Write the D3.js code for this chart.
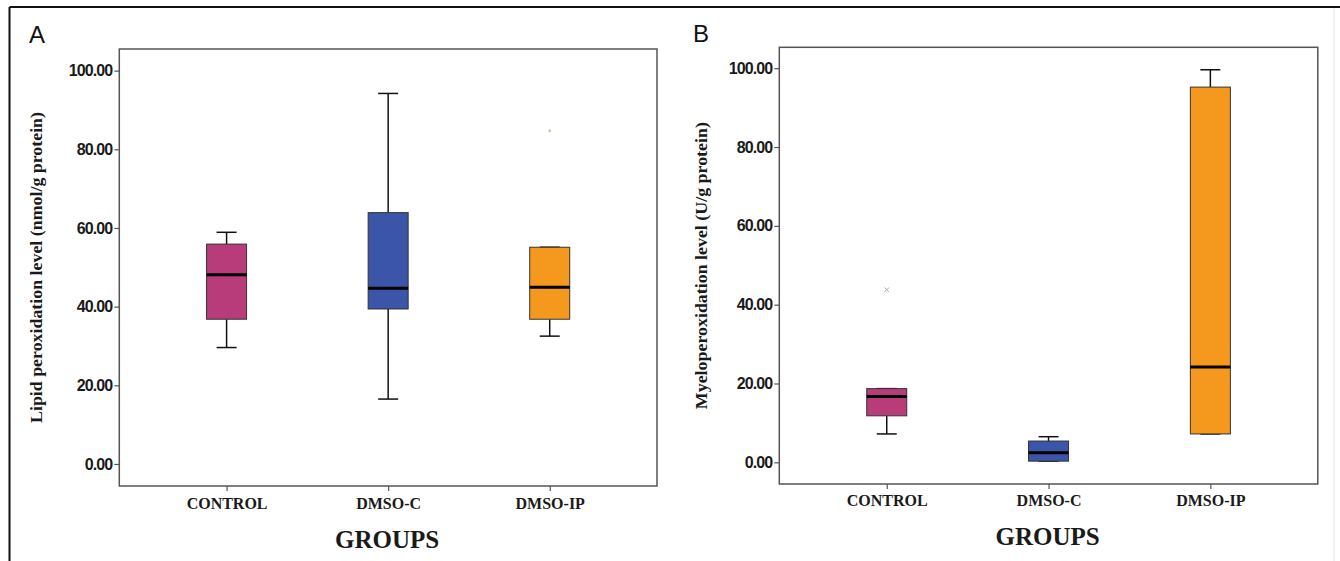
<!DOCTYPE html>
<html>
<head>
<meta charset="utf-8">
<script src="https://cdn.jsdelivr.net/npm/d3@7"></script>
<style>
  html, body { margin: 0; padding: 0; background: #fff; }
  svg { display: block; }
</style>
</head>
<body>
<svg id="chart" width="1340" height="561"></svg>
<script>
// ---------- data ----------
const categories = ["CONTROL", "DMSO-C", "DMSO-IP"];
const colors = ["#b83c7a", "#3b55a9", "#f4991e"];
const tickValues = [0, 20, 40, 60, 80, 100];

// Panel A: Lipid peroxidation (nmol/g protein)
const lipidLow    = [29.6, 16.5, 32.5];
const lipidQ1     = [36.8, 39.4, 36.8];
const lipidMedian = [48.1, 44.7, 44.9];
const lipidQ3     = [55.9, 63.9, 55.1];
const lipidHigh   = [58.9, 94.2, 55.1];
const lipidOutliers = [[], [], [84.7]];

// Panel B: Myeloperoxidation (U/g protein)
const mpoLow    = [7.2, 0.3, 7.2];
const mpoQ1     = [11.8, 0.3, 7.2];
const mpoMedian = [16.7, 2.4, 24.2];
const mpoQ3     = [18.7, 5.4, 95.2];
const mpoHigh   = [18.7, 6.5, 99.6];
const mpoOutliers = [[43.8], [], []];

const svg = d3.select("#chart");

// outer figure frame
svg.append("line").attr("x1", 9.5).attr("x2", 1340).attr("y1", 7).attr("y2", 7)
  .attr("stroke", "#111").attr("stroke-width", 2);
svg.append("line").attr("x1", 9.5).attr("x2", 9.5).attr("y1", 7).attr("y2", 561)
  .attr("stroke", "#111").attr("stroke-width", 2);
svg.append("line").attr("x1", 1334).attr("x2", 1334).attr("y1", 8).attr("y2", 561)
  .attr("stroke", "#e4e4e4").attr("stroke-width", 1);

function panel(cfg) {
  const g = svg.append("g");
  const x = d3.scalePoint().domain(categories).range([cfg.left, cfg.right]).padding(0.664);
  const y = d3.scaleLinear().domain(cfg.domain).range([cfg.bottom, cfg.top]);
  const boxW = 40, capW = 20;

  // plot frame
  g.append("rect").attr("x", cfg.left).attr("y", cfg.top)
    .attr("width", cfg.right - cfg.left).attr("height", cfg.bottom - cfg.top)
    .attr("fill", "none").attr("stroke", "#555").attr("stroke-width", 1.5);

  // y axis
  const ya = d3.axisLeft(y).tickValues(tickValues).tickFormat(d3.format(".2f"))
    .tickSize(5).tickPadding(2);
  const yg = g.append("g").attr("transform", `translate(${cfg.left},0)`).call(ya);
  yg.select(".domain").remove();
  yg.selectAll(".tick line").attr("stroke", "#555").attr("stroke-width", 1.2);
  yg.selectAll(".tick text").attr("fill", "#1a1a1a")
    .style("font-family", "'Liberation Sans', Arial, sans-serif")
    .style("font-weight", "bold").style("font-size", "16px")
    .style("letter-spacing", "-0.9px");

  // x axis
  const xa = d3.axisBottom(x).tickSize(5).tickPadding(8);
  const xg = g.append("g").attr("transform", `translate(0,${cfg.bottom})`).call(xa);
  xg.select(".domain").remove();
  xg.selectAll(".tick line").attr("stroke", "#555").attr("stroke-width", 1.2);
  xg.selectAll(".tick text").attr("fill", "#1a1a1a")
    .attr("y", cfg.catBaseline - cfg.bottom).attr("dy", 0)
    .style("font-family", "'Liberation Serif', 'Times New Roman', serif")
    .style("font-weight", "bold").style("font-size", "16px");

  // boxes
  categories.forEach((c, i) => {
    const cx = x(c);
    // whiskers
    g.append("line").attr("x1", cx).attr("x2", cx)
      .attr("y1", y(cfg.high[i])).attr("y2", y(cfg.q3[i]))
      .attr("stroke", "#111").attr("stroke-width", 1.5);
    g.append("line").attr("x1", cx).attr("x2", cx)
      .attr("y1", y(cfg.q1[i])).attr("y2", y(cfg.low[i]))
      .attr("stroke", "#111").attr("stroke-width", 1.5);
    g.append("line").attr("x1", cx - capW / 2).attr("x2", cx + capW / 2)
      .attr("y1", y(cfg.high[i])).attr("y2", y(cfg.high[i]))
      .attr("stroke", "#111").attr("stroke-width", 1.5);
    g.append("line").attr("x1", cx - capW / 2).attr("x2", cx + capW / 2)
      .attr("y1", y(cfg.low[i])).attr("y2", y(cfg.low[i]))
      .attr("stroke", "#111").attr("stroke-width", 1.5);
    // box
    g.append("rect").attr("x", cx - boxW / 2).attr("y", y(cfg.q3[i]))
      .attr("width", boxW).attr("height", Math.max(1, y(cfg.q1[i]) - y(cfg.q3[i])))
      .attr("fill", colors[i]).attr("stroke", "#333").attr("stroke-width", 1);
    // median
    g.append("line").attr("x1", cx - boxW / 2).attr("x2", cx + boxW / 2)
      .attr("y1", y(cfg.median[i])).attr("y2", y(cfg.median[i]))
      .attr("stroke", "#000").attr("stroke-width", 3);
    // outliers
    cfg.outliers[i].forEach(v => {
      if (cfg.outlierStyle === "dot") {
        g.append("circle").attr("cx", cx).attr("cy", y(v)).attr("r", 1.2)
          .attr("fill", "#b9c27a");
      } else {
        g.append("path")
          .attr("d", d3.symbol(d3.symbolTimes, 14)())
          .attr("transform", `translate(${cx},${y(v)})`)
          .attr("stroke", "#aaa").attr("stroke-width", 1).attr("fill", "none");
      }
    });
  });

  // axis titles
  g.append("text").attr("x", (cfg.left + cfg.right) / 2 - 1).attr("y", cfg.groupsBaseline)
    .attr("text-anchor", "middle").attr("fill", "#1a1a1a")
    .style("font-family", "'Liberation Serif', 'Times New Roman', serif")
    .style("font-weight", "bold").style("font-size", "25px")
    .text("GROUPS");

  g.append("text")
    .attr("transform", `translate(${cfg.ylabX},${(cfg.top + cfg.bottom) / 2}) rotate(-90)`)
    .attr("text-anchor", "middle").attr("fill", "#1a1a1a")
    .attr("textLength", cfg.ylabLen).attr("lengthAdjust", "spacingAndGlyphs")
    .style("font-family", "'Liberation Serif', 'Times New Roman', serif")
    .style("font-weight", "bold").style("font-size", "16px")
    .text(cfg.ylabel);

  // panel letter
  g.append("text").attr("x", cfg.letterX).attr("y", cfg.letterY)
    .attr("fill", "#111")
    .style("font-family", "'Liberation Sans', Arial, sans-serif")
    .style("font-size", "24px")
    .text(cfg.letter);
}

panel({
  left: 119.3, right: 657, top: 49, bottom: 486, domain: [-5.6, 105.5],
  low: lipidLow, q1: lipidQ1, median: lipidMedian, q3: lipidQ3, high: lipidHigh,
  outliers: lipidOutliers, outlierStyle: "dot",
  catBaseline: 509, groupsBaseline: 548,
  ylabX: 42, ylabLen: 311, ylabel: "Lipid peroxidation level (nmol/g protein)",
  letter: "A", letterX: 29, letterY: 43
});

panel({
  left: 779.3, right: 1317.8, top: 47.3, bottom: 484, domain: [-5.5, 105.3],
  low: mpoLow, q1: mpoQ1, median: mpoMedian, q3: mpoQ3, high: mpoHigh,
  outliers: mpoOutliers, outlierStyle: "times",
  catBaseline: 506, groupsBaseline: 545,
  ylabX: 707, ylabLen: 287, ylabel: "Myeloperoxidation level (U/g protein)",
  letter: "B", letterX: 693, letterY: 42
});
</script>
</body>
</html>
